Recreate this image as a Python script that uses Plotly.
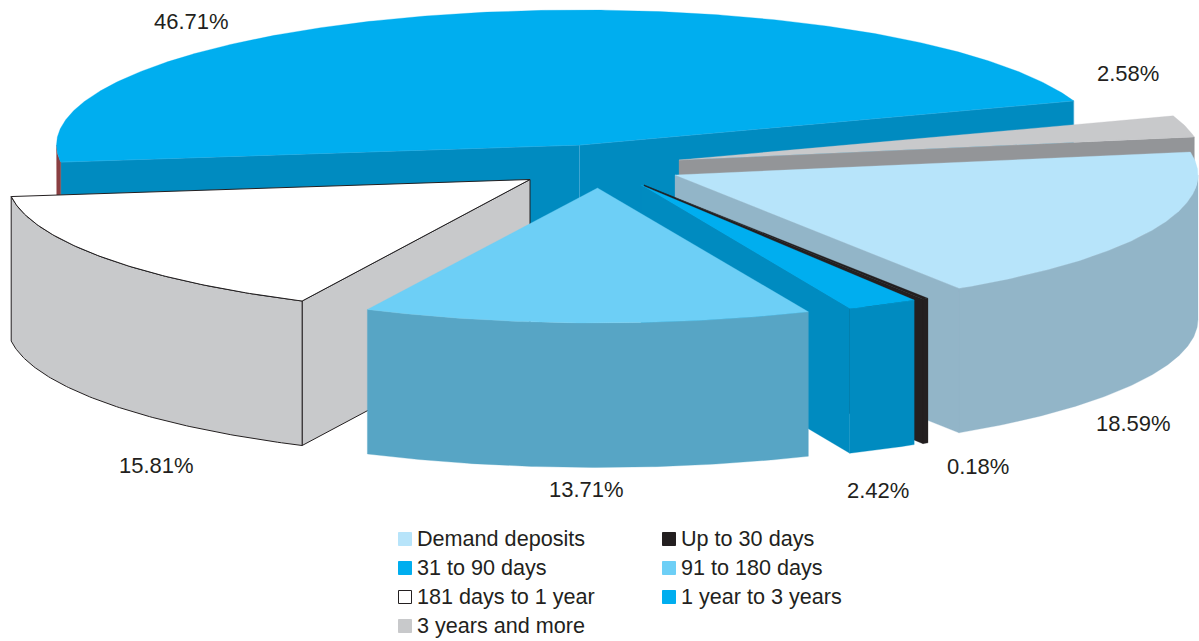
import numpy as np
import plotly.graph_objects as go

# ---- data (clockwise from the slice at the top right) ----
categories = ["3 years and more", "Demand deposits", "Up to 30 days", "31 to 90 days",
              "91 to 180 days", "181 days to 1 year", "1 year to 3 years"]
shares = [2.58, 18.59, 0.18, 2.42, 13.71, 15.81, 46.71]
share_labels = ["2.58%", "18.59%", "0.18%", "2.42%", "13.71%", "15.81%", "46.71%"]

legend_order = ["Demand deposits", "Up to 30 days", "31 to 90 days", "91 to 180 days",
                "181 days to 1 year", "1 year to 3 years", "3 years and more"]

# ---- style ----
top_colors = ["#c8c9cb", "#b7e4fa", "#231f20", "#00aeef", "#6dcff6", "#ffffff", "#00aeef"]
wall_colors = ["#939598", "#92b5c8", "#231f20", "#008bc0", "#57a5c5", "#c8c9cb", "#008bc0"]
rim_colors = ["#939598", "#92b5c8", "#231f20", "#008bc0", "#57a5c5", "#c8c9cb", "#8a3f42"]
legend_colors = ["#b7e4fa", "#231f20", "#00aeef", "#6dcff6", "#ffffff", "#00aeef", "#c8c9cb"]

# ---- projection (pixels of the figure) ----
RX, RY, DEPTH = 523.0, 135.0, 144.5
START_DEG = 340.9
hub_x = [679, 675, 644, 641, 597.5, 530, 579.5]
hub_y = [160, 175, 185, 185, 188, 179.5, 145]
rx_scale = [1, 1, 1, 1, 1.01, 1, 1]
trim_start = [0, 0, 0, 0.75, 0, 0, 0]
draw_order = [6, 0, 1, 5, 2, 3, 4]
outlined = [False, False, False, False, False, True, False]
soft_edge = [False, False, False, False, False, False, True]

label_x = [1128, 1133, 978, 878, 586, 156, 191]
label_y = [73, 423, 466, 490, 489, 465, 21]

legend_x = [405, 669, 405, 669, 405, 669, 405]
legend_y = [539, 539, 568, 568, 597, 597, 626]

FONT = "Liberation Sans"
INK = "#231f20"

# ---- geometry derived from the shares ----
sweeps = np.array(shares) * 3.6
starts = START_DEG + np.concatenate([[0], np.cumsum(sweeps)[:-1]])
ends = starts + sweeps


def rim(cx, cy, t0, t1, scale=1.0, n=None):
    n = n or max(int(abs(t1 - t0)) * 2, 2) + 1
    t = np.radians(np.linspace(t0, t1, n))
    return cx + RX * scale * np.cos(t), cy + RY * np.sin(t)


def poly(fig, xs, ys, fill, name, line_color=None, line_width=0):
    fig.add_trace(go.Scatter(
        x=list(xs) + [xs[0]], y=list(ys) + [ys[0]], mode="lines", fill="toself",
        fillcolor=fill, name=name, showlegend=False, hoverinfo="skip",
        line=dict(color=line_color or fill, width=line_width if line_color else 0.3),
    ))


fig = go.Figure()
for i in draw_order:
    cx, cy = hub_x[i], hub_y[i]
    sc = rx_scale[i]
    t0, t1 = starts[i] + trim_start[i], ends[i]
    name = categories[i]
    edge = "#231f20" if outlined[i] else ("#45a8d4" if soft_edge[i] else None)
    width = 1 if outlined[i] else (0.7 if edge else 0)

    # end-edge and start-edge walls, where they face the viewer
    for t, visible in ((t1, np.cos(np.radians(t1)) > 0), (t0, np.cos(np.radians(t0)) < 0)):
        if visible:
            rx, ry = rim(cx, cy, t, t, sc, 2)
            poly(fig, [cx, rx[0], rx[0], cx], [cy, ry[0], ry[0] + DEPTH, cy + DEPTH],
                 wall_colors[i], name, edge, width)

    # outer wall: only the part of the rim on the viewer's side
    for k in (0, 1):
        a, b = max(t0, k * 360), min(t1, k * 360 + 180)
        if b > a:
            rx, ry = rim(cx, cy, a, b, sc)
            poly(fig, list(rx) + list(rx[::-1]), list(ry) + list((ry + DEPTH)[::-1]),
                 rim_colors[i], name, "#231f20" if outlined[i] else None, width)

    # top face
    rx, ry = rim(cx, cy, t0, t1, sc)
    poly(fig, [cx] + list(rx), [cy] + list(ry), top_colors[i], name,
         "#231f20" if outlined[i] else None, width)

# legend squares
for name, color, x, y in zip(legend_order, legend_colors, legend_x, legend_y):
    fig.add_trace(go.Scatter(
        x=[x], y=[y], mode="markers", showlegend=False, name=name, hoverinfo="skip",
        marker=dict(symbol="square", size=13, color=color,
                    line=dict(color="#231f20" if color == "#ffffff" else color, width=1)),
    ))

annotations = []
for text, x, y in zip(share_labels, label_x, label_y):
    annotations.append(dict(x=x, y=y, text=text, showarrow=False, xanchor="center", yanchor="middle",
                            font=dict(family=FONT, size=22, color=INK)))
for text, x, y in zip(legend_order, legend_x, legend_y):
    annotations.append(dict(x=x + 10, y=y - 0.8, text=text, showarrow=False, xanchor="left", yanchor="middle",
                            font=dict(family=FONT, size=21.6, color=INK)))

fig.update_layout(
    width=1199, height=641, margin=dict(l=0, r=0, t=0, b=0),
    paper_bgcolor="white", plot_bgcolor="white", showlegend=False,
    xaxis=dict(range=[0, 1199], visible=False, fixedrange=True),
    yaxis=dict(range=[641, 0], visible=False, fixedrange=True),
    annotations=annotations,
)
fig.write_html("out.html", config={"displayModeBar": False},
               post_script="document.body.style.margin='0';")
